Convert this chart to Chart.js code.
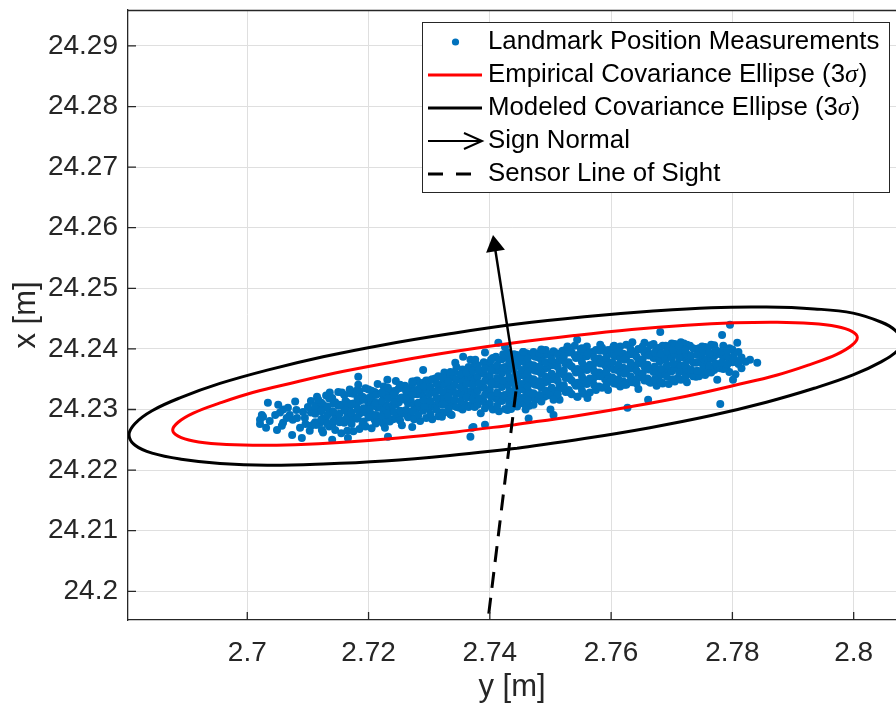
<!DOCTYPE html>
<html>
<head>
<meta charset="utf-8">
<script src="https://cdn.jsdelivr.net/npm/chart.js@4.4.0/dist/chart.umd.min.js"></script>
<style>
  html, body { margin: 0; padding: 0; background: #fff; overflow: hidden; }
  #chart { display: block; }
</style>
</head>
<body>
<canvas id="chart" width="896" height="703"></canvas>
<script>
// ============================================
// Landmark position scatter vs covariance ellipses
// ============================================

// axis ranges + ticks (horizontal = y [m], vertical = x [m])
const xRange = [2.68033, 2.80698];
const yRange = [24.19526, 24.29593];
const xTicks = [2.7, 2.72, 2.74, 2.76, 2.78, 2.8];
const xTickLabels = ['2.7', '2.72', '2.74', '2.76', '2.78', '2.8'];
const yTicks = [24.2, 24.21, 24.22, 24.23, 24.24, 24.25, 24.26, 24.27, 24.28, 24.29];
const yTickLabels = ['24.2', '24.21', '24.22', '24.23', '24.24', '24.25', '24.26', '24.27', '24.28', '24.29'];

const legendLabels = [
    'Landmark Position Measurements',
    'Empirical Covariance Ellipse (3σ)',
    'Modeled Covariance Ellipse (3σ)',
    'Sign Normal',
    'Sensor Line of Sight'
];

// measurement cloud, dense part: [y, x1, x2, ...] per column
const landmarkCols = [
    [2.7105, 24.2273, 24.2295, 24.2314],
    [2.7110, 24.2276, 24.2299],
    [2.7115, 24.2275, 24.2298, 24.2321],
    [2.7120, 24.2278, 24.2301],
    [2.7125, 24.2262, 24.2285, 24.2308],
    [2.7130, 24.2280, 24.2303, 24.2323],
    [2.7135, 24.2272, 24.2295, 24.2318],
    [2.7140, 24.2274, 24.2297, 24.2319],
    [2.7145, 24.2266, 24.2289, 24.2312],
    [2.7150, 24.2283, 24.2306, 24.2329],
    [2.7155, 24.2261, 24.2282, 24.2307],
    [2.7160, 24.2278, 24.2301, 24.2324],
    [2.7165, 24.2265, 24.2288, 24.2311],
    [2.7170, 24.2281, 24.2306, 24.2327],
    [2.7175, 24.2264, 24.2287, 24.2310, 24.2326],
    [2.7180, 24.2285, 24.2308, 24.2331],
    [2.7185, 24.2268, 24.2293, 24.2314, 24.2330],
    [2.7190, 24.2275, 24.2298, 24.2321],
    [2.7195, 24.2272, 24.2295, 24.2318, 24.2335],
    [2.7200, 24.2287, 24.2310, 24.2333],
    [2.7205, 24.2269, 24.2292, 24.2315, 24.2331],
    [2.7210, 24.2283, 24.2306, 24.2329],
    [2.7215, 24.2280, 24.2303, 24.2326, 24.2342],
    [2.7220, 24.2280, 24.2303],
    [2.7225, 24.2276, 24.2299, 24.2322, 24.2338],
    [2.7230, 24.2284, 24.2307, 24.2330],
    [2.7235, 24.2280, 24.2303, 24.2326],
    [2.7240, 24.2284, 24.2307, 24.2330],
    [2.7245, 24.2285, 24.2308, 24.2331, 24.2347],
    [2.7250, 24.2289, 24.2312, 24.2335],
    [2.7255, 24.2274, 24.2297, 24.2320, 24.2336],
    [2.7260, 24.2293, 24.2316, 24.2339],
    [2.7265, 24.2287, 24.2310, 24.2333],
    [2.7270, 24.2290, 24.2313, 24.2336],
    [2.7275, 24.2284, 24.2307, 24.2330, 24.2346],
    [2.7280, 24.2302, 24.2325, 24.2348],
    [2.7285, 24.2281, 24.2304, 24.2327, 24.2343],
    [2.7290, 24.2298, 24.2321, 24.2344],
    [2.7295, 24.2286, 24.2309, 24.2332, 24.2348],
    [2.7300, 24.2302, 24.2325, 24.2348],
    [2.7305, 24.2284, 24.2307, 24.2330, 24.2350],
    [2.7310, 24.2305, 24.2328, 24.2351],
    [2.7315, 24.2289, 24.2312, 24.2335, 24.2355],
    [2.7320, 24.2295, 24.2318, 24.2341],
    [2.7325, 24.2295, 24.2318, 24.2341, 24.2361],
    [2.7330, 24.2309, 24.2332, 24.2355],
    [2.7335, 24.2292, 24.2315, 24.2338, 24.2358],
    [2.7340, 24.2306, 24.2329, 24.2352],
    [2.7345, 24.2304, 24.2327, 24.2350, 24.2370],
    [2.7350, 24.2303, 24.2326, 24.2349],
    [2.7355, 24.2300, 24.2323, 24.2346, 24.2366],
    [2.7360, 24.2308, 24.2331, 24.2354],
    [2.7365, 24.2304, 24.2327, 24.2350, 24.2370],
    [2.7370, 24.2308, 24.2331, 24.2354],
    [2.7375, 24.2304, 24.2327, 24.2350, 24.2373],
    [2.7380, 24.2308, 24.2331, 24.2354, 24.2373],
    [2.7385, 24.2294, 24.2317, 24.2340, 24.2363],
    [2.7390, 24.2313, 24.2336, 24.2359, 24.2378],
    [2.7395, 24.2307, 24.2330, 24.2353, 24.2376],
    [2.7400, 24.2310, 24.2333, 24.2356, 24.2375],
    [2.7405, 24.2300, 24.2323, 24.2346, 24.2369, 24.2385],
    [2.7410, 24.2318, 24.2341, 24.2364, 24.2387],
    [2.7415, 24.2297, 24.2320, 24.2343, 24.2366, 24.2382],
    [2.7420, 24.2314, 24.2337, 24.2360, 24.2383],
    [2.7425, 24.2301, 24.2324, 24.2347, 24.2370, 24.2386],
    [2.7430, 24.2317, 24.2340, 24.2363, 24.2386],
    [2.7435, 24.2301, 24.2324, 24.2347, 24.2370, 24.2386],
    [2.7440, 24.2322, 24.2345, 24.2368, 24.2391],
    [2.7445, 24.2305, 24.2328, 24.2351, 24.2374, 24.2390],
    [2.7450, 24.2311, 24.2334, 24.2357, 24.2380],
    [2.7455, 24.2310, 24.2333, 24.2356, 24.2379, 24.2395],
    [2.7460, 24.2324, 24.2347, 24.2370, 24.2393],
    [2.7465, 24.2306, 24.2329, 24.2352, 24.2375, 24.2391],
    [2.7470, 24.2320, 24.2343, 24.2366, 24.2389],
    [2.7475, 24.2318, 24.2341, 24.2364, 24.2387],
    [2.7480, 24.2317, 24.2340, 24.2363, 24.2386],
    [2.7485, 24.2313, 24.2336, 24.2359, 24.2382, 24.2398],
    [2.7490, 24.2321, 24.2344, 24.2367, 24.2390],
    [2.7495, 24.2323, 24.2346, 24.2369, 24.2392],
    [2.7500, 24.2327, 24.2350, 24.2373, 24.2389],
    [2.7505, 24.2327, 24.2350, 24.2373, 24.2396],
    [2.7510, 24.2331, 24.2354, 24.2377, 24.2393],
    [2.7515, 24.2316, 24.2339, 24.2362, 24.2385],
    [2.7520, 24.2335, 24.2358, 24.2381, 24.2397],
    [2.7525, 24.2329, 24.2352, 24.2375, 24.2398],
    [2.7530, 24.2332, 24.2355, 24.2378, 24.2394],
    [2.7535, 24.2325, 24.2348, 24.2371, 24.2394],
    [2.7540, 24.2343, 24.2366, 24.2389, 24.2405],
    [2.7545, 24.2321, 24.2344, 24.2367, 24.2390],
    [2.7550, 24.2338, 24.2361, 24.2384, 24.2400],
    [2.7555, 24.2326, 24.2349, 24.2372, 24.2395],
    [2.7560, 24.2342, 24.2365, 24.2388, 24.2404],
    [2.7565, 24.2328, 24.2351, 24.2374, 24.2394],
    [2.7570, 24.2349, 24.2372, 24.2395],
    [2.7575, 24.2332, 24.2355, 24.2378, 24.2398],
    [2.7580, 24.2338, 24.2361, 24.2384],
    [2.7585, 24.2336, 24.2359, 24.2382, 24.2402],
    [2.7590, 24.2350, 24.2373, 24.2396],
    [2.7595, 24.2332, 24.2355, 24.2378, 24.2398],
    [2.7600, 24.2346, 24.2369, 24.2392],
    [2.7605, 24.2343, 24.2366, 24.2389, 24.2405],
    [2.7610, 24.2342, 24.2365, 24.2388],
    [2.7615, 24.2338, 24.2361, 24.2384, 24.2404],
    [2.7620, 24.2346, 24.2369, 24.2392],
    [2.7625, 24.2341, 24.2364, 24.2387, 24.2407],
    [2.7630, 24.2345, 24.2368, 24.2391],
    [2.7635, 24.2345, 24.2368, 24.2391, 24.2411],
    [2.7640, 24.2349, 24.2372, 24.2395],
    [2.7645, 24.2334, 24.2357, 24.2380, 24.2400],
    [2.7650, 24.2353, 24.2376, 24.2399],
    [2.7655, 24.2348, 24.2371, 24.2394, 24.2410],
    [2.7660, 24.2351, 24.2374, 24.2397],
    [2.7665, 24.2344, 24.2367, 24.2390, 24.2406],
    [2.7670, 24.2362, 24.2385, 24.2408],
    [2.7675, 24.2339, 24.2362, 24.2385, 24.2401],
    [2.7680, 24.2356, 24.2379, 24.2402],
    [2.7685, 24.2343, 24.2366, 24.2389, 24.2405],
    [2.7690, 24.2359, 24.2382, 24.2405],
    [2.7695, 24.2342, 24.2365, 24.2388, 24.2404],
    [2.7700, 24.2363, 24.2386, 24.2409],
    [2.7705, 24.2346, 24.2369, 24.2392, 24.2408],
    [2.7710, 24.2352, 24.2375, 24.2398],
    [2.7715, 24.2349, 24.2372, 24.2395, 24.2411],
    [2.7720, 24.2363, 24.2386, 24.2409],
    [2.7725, 24.2345, 24.2368, 24.2391, 24.2407],
    [2.7730, 24.2359, 24.2382, 24.2405],
    [2.7735, 24.2355, 24.2378, 24.2401],
    [2.7740, 24.2354, 24.2377, 24.2400],
    [2.7745, 24.2355, 24.2378, 24.2401],
    [2.7750, 24.2363, 24.2386, 24.2404],
    [2.7755, 24.2357, 24.2380, 24.2403],
    [2.7760, 24.2361, 24.2384, 24.2402],
    [2.7765, 24.2361, 24.2384, 24.2407],
    [2.7770, 24.2365, 24.2388, 24.2406],
    [2.7775, 24.2349, 24.2372, 24.2395],
    [2.7780, 24.2368, 24.2391],
    [2.7785, 24.2367, 24.2386, 24.2405],
    [2.7790, 24.2368, 24.2389],
    [2.7795, 24.2362, 24.2383, 24.2401],
    [2.7800, 24.2378, 24.2399],
    [2.7805, 24.2358, 24.2379],
    [2.7810, 24.2375, 24.2395],
    [2.7815, 24.2368, 24.2386]
];

// extra measurements packed into the middle of the band
const landmarkFill = [
    [2.7112, 24.2279, 24.2293, 24.2306],
    [2.7122, 24.2284, 24.2297, 24.2311],
    [2.7132, 24.2276, 24.2290, 24.2305],
    [2.7142, 24.2281, 24.2296, 24.2310],
    [2.7152, 24.2279, 24.2293, 24.2308],
    [2.7162, 24.2283, 24.2298, 24.2314],
    [2.7172, 24.2276, 24.2295, 24.2309],
    [2.7182, 24.2285, 24.2300, 24.2318],
    [2.7192, 24.2280, 24.2302, 24.2316],
    [2.7202, 24.2289, 24.2300, 24.2320],
    [2.7212, 24.2277, 24.2291, 24.2311, 24.2324],
    [2.7222, 24.2290, 24.2314, 24.2328],
    [2.7232, 24.2293, 24.2318, 24.2336],
    [2.7242, 24.2296, 24.2315, 24.2325],
    [2.7252, 24.2282, 24.2298, 24.2319, 24.2341],
    [2.7262, 24.2299, 24.2321, 24.2330],
    [2.7272, 24.2297, 24.2324, 24.2342],
    [2.7282, 24.2291, 24.2311, 24.2334],
    [2.7292, 24.2306, 24.2316, 24.2338],
    [2.7302, 24.2293, 24.2314, 24.2337],
    [2.7312, 24.2300, 24.2319, 24.2343],
    [2.7322, 24.2308, 24.2329, 24.2352],
    [2.7332, 24.2301, 24.2322, 24.2346],
    [2.7342, 24.2316, 24.2340, 24.2362],
    [2.7352, 24.2314, 24.2337, 24.2358],
    [2.7362, 24.2320, 24.2342, 24.2361],
    [2.7372, 24.2317, 24.2340, 24.2364],
    [2.7382, 24.2319, 24.2343, 24.2365],
    [2.7392, 24.2302, 24.2324, 24.2347, 24.2368],
    [2.7402, 24.2321, 24.2343, 24.2365, 24.2382],
    [2.7412, 24.2306, 24.2328, 24.2352, 24.2373],
    [2.7422, 24.2323, 24.2348, 24.2369, 24.2391],
    [2.7432, 24.2309, 24.2330, 24.2353, 24.2378],
    [2.7442, 24.2313, 24.2335, 24.2358, 24.2381],
    [2.7452, 24.2319, 24.2342, 24.2365, 24.2388],
    [2.7462, 24.2315, 24.2338, 24.2360, 24.2384],
    [2.7472, 24.2327, 24.2350, 24.2373, 24.2395],
    [2.7482, 24.2324, 24.2347, 24.2371, 24.2393],
    [2.7492, 24.2331, 24.2354, 24.2378, 24.2398],
    [2.7502, 24.2336, 24.2359, 24.2382],
    [2.7512, 24.2325, 24.2347, 24.2370, 24.2391],
    [2.7522, 24.2340, 24.2364, 24.2387],
    [2.7532, 24.2328, 24.2351, 24.2373, 24.2396],
    [2.7542, 24.2339, 24.2361, 24.2385],
    [2.7552, 24.2331, 24.2354, 24.2378, 24.2401],
    [2.7562, 24.2347, 24.2369, 24.2392],
    [2.7572, 24.2340, 24.2363, 24.2386],
    [2.7582, 24.2355, 24.2376, 24.2397],
    [2.7592, 24.2340, 24.2362, 24.2385],
    [2.7602, 24.2353, 24.2378, 24.2400],
    [2.7612, 24.2350, 24.2374, 24.2396],
    [2.7622, 24.2341, 24.2359, 24.2382],
    [2.7632, 24.2355, 24.2377, 24.2400],
    [2.7642, 24.2343, 24.2364, 24.2387],
    [2.7652, 24.2360, 24.2383, 24.2404],
    [2.7662, 24.2346, 24.2366, 24.2389],
    [2.7672, 24.2350, 24.2371, 24.2394],
    [2.7682, 24.2345, 24.2367, 24.2392],
    [2.7692, 24.2354, 24.2373, 24.2396],
    [2.7702, 24.2350, 24.2376, 24.2398],
    [2.7712, 24.2362, 24.2385, 24.2405],
    [2.7722, 24.2353, 24.2374, 24.2398],
    [2.7732, 24.2366, 24.2389],
    [2.7742, 24.2364, 24.2390],
    [2.7752, 24.2370, 24.2395],
    [2.7762, 24.2372, 24.2393],
    [2.7772, 24.2376, 24.2399],
    [2.7782, 24.2377, 24.2396],
    [2.7792, 24.2375, 24.2397],
    [2.7802, 24.2388],
    [2.7812, 24.2381]
];

// sparse left end and scattered outliers: [y, x]
const landmarkStray = [
    [2.7024, 24.2291], [2.7021, 24.2283], [2.7026, 24.2288], [2.7021, 24.2276],
    [2.7034, 24.2311], [2.7051, 24.2308], [2.7054, 24.2295], [2.7059, 24.2300],
    [2.7059, 24.2278], [2.7065, 24.2286], [2.7070, 24.2291], [2.7075, 24.2283],
    [2.7079, 24.2313], [2.7074, 24.2258], [2.7090, 24.2253], [2.7092, 24.2296],
    [2.7049, 24.2266], [2.7057, 24.2273], [2.7037, 24.2281], [2.7031, 24.2270],
    [2.7082, 24.2286], [2.7096, 24.2276], [2.7087, 24.2270], [2.7100, 24.2304],
    [2.7081, 24.2299], [2.7103, 24.2265], [2.7095, 24.2286], [2.7067, 24.2303],
    [2.7046, 24.2291],
    [2.7183, 24.2354], [2.7183, 24.2341], [2.7231, 24.2349], [2.7272, 24.2346],
    [2.7290, 24.2365], [2.7335, 24.2362], [2.7343, 24.2377], [2.7368, 24.2382],
    [2.7414, 24.2410], [2.7429, 24.2394], [2.7455, 24.2395], [2.7232, 24.2255],
    [2.7272, 24.2271], [2.7368, 24.2255], [2.7373, 24.2271], [2.7392, 24.2275],
    [2.7140, 24.2250], [2.7166, 24.2253], [2.7123, 24.2266], [2.7112, 24.2275],
    [2.7169, 24.2333], [2.7156, 24.2328], [2.7136, 24.2328], [2.7117, 24.2316],
    [2.7356, 24.2387], [2.7376, 24.2382], [2.7392, 24.2394], [2.7425, 24.2403],
    [2.7227, 24.2270], [2.7371, 24.2270], [2.7321, 24.2288], [2.7337, 24.2291],
    [2.7544, 24.2415], [2.7528, 24.2404], [2.7582, 24.2407], [2.7604, 24.2404],
    [2.7485, 24.2399], [2.7500, 24.2300], [2.7505, 24.2316], [2.7544, 24.2321],
    [2.7561, 24.2319], [2.7472, 24.2308], [2.7459, 24.2300], [2.7429, 24.2299],
    [2.7681, 24.2428], [2.7783, 24.2423], [2.7796, 24.2440], [2.7627, 24.2303],
    [2.7661, 24.2316], [2.7505, 24.2291], [2.7464, 24.2285], [2.7808, 24.2410],
    [2.7801, 24.2349], [2.7780, 24.2309], [2.7829, 24.2382], [2.7841, 24.2377],
    [2.7822, 24.2379]
];

// empirical (red) ellipse, read round from the bottom middle
const empiricalY = [2.7441, 2.7344, 2.7249, 2.7159, 2.7079, 2.7009, 2.6953, 2.6911, 2.6886, 2.6877,
    2.6886, 2.6911, 2.6953, 2.7009, 2.7079, 2.7159, 2.7249, 2.7344, 2.7441, 2.7539, 2.7634, 2.7724,
    2.7804, 2.7874, 2.7930, 2.7972, 2.7997, 2.8006, 2.7997, 2.7972, 2.7930, 2.7874, 2.7804, 2.7724,
    2.7634, 2.7539, 2.7441];
const empiricalX = [24.2275, 24.2263, 24.2253, 24.2246, 24.2242, 24.2241, 24.2243, 24.2248, 24.2256, 24.2266,
    24.2279, 24.2294, 24.2310, 24.2328, 24.2345, 24.2363, 24.2380, 24.2396, 24.2410, 24.2422, 24.2432, 24.2439,
    24.2443, 24.2444, 24.2442, 24.2437, 24.2429, 24.2419, 24.2406, 24.2391, 24.2375, 24.2357, 24.2340, 24.2322,
    24.2305, 24.2289, 24.2275];

// modeled (black) ellipse, read round from the bottom middle
const modeledY = [2.7445, 2.7334, 2.7226, 2.7125, 2.7033, 2.6955, 2.6891, 2.6843, 2.6815, 2.6805,
    2.6815, 2.6843, 2.6891, 2.6955, 2.7033, 2.7125, 2.7226, 2.7334, 2.7445, 2.7556, 2.7664, 2.7765,
    2.7856, 2.7935, 2.7999, 2.8046, 2.8068, 2.8080, 2.8072, 2.8046, 2.7999, 2.7935, 2.7856, 2.7765,
    2.7664, 2.7556, 2.7445];
const modeledX = [24.2236, 24.2224, 24.2215, 24.2210, 24.2208, 24.2211, 24.2218, 24.2228, 24.2241, 24.2258,
    24.2277, 24.2298, 24.2320, 24.2343, 24.2365, 24.2387, 24.2407, 24.2425, 24.2441, 24.2453, 24.2462, 24.2468,
    24.2469, 24.2466, 24.2459, 24.2444, 24.2431, 24.2413, 24.2397, 24.2379, 24.2357, 24.2335, 24.2312, 24.2290,
    24.2270, 24.2252, 24.2236];

// sign normal arrow (base -> head) and sensor line of sight
const normalY = [2.7445, 2.7408];
const normalX = [24.2333, 24.2570];
const sightY = [2.7443, 2.7393];
const sightX = [24.2330, 24.1920];

const FONT = "'Liberation Sans', Arial, Helvetica, sans-serif";
const AXIS_COLOR = '#262626';

function toPoints(ys, xs) {
    return ys.map((v, i) => ({ x: v, y: xs[i] }));
}

let measPoints = [];
landmarkCols.concat(landmarkFill).forEach(col => {
    for (let i = 1; i < col.length; i++) measPoints.push({ x: col[0], y: col[i] });
});
landmarkStray.forEach(p => measPoints.push({ x: p[0], y: p[1] }));

/**
 * Box top edge and inward tick marks (matlab style)
 */
const axesFrame = {
    id: 'axesFrame',
    afterDraw(chart) {
        const { ctx, chartArea: a, scales } = chart;
        ctx.save();
        ctx.strokeStyle = AXIS_COLOR;
        ctx.lineWidth = 1.3;
        ctx.beginPath();
        ctx.moveTo(a.left, a.top + 0.5);
        ctx.lineTo(a.right, a.top + 0.5);
        xTicks.forEach(v => {
            const px = scales.x.getPixelForValue(v);
            ctx.moveTo(px, a.bottom);
            ctx.lineTo(px, a.bottom - 8);
        });
        yTicks.forEach(v => {
            const py = scales.y.getPixelForValue(v);
            ctx.moveTo(a.left, py);
            ctx.lineTo(a.left + 8, py);
        });
        ctx.stroke();
        ctx.restore();
    }
};

/**
 * Legend box in the upper right corner
 */
const boxLegend = {
    id: 'boxLegend',
    afterDraw(chart) {
        const ctx = chart.ctx;
        const rows = [42, 75, 108, 141, 174];
        ctx.save();
        ctx.fillStyle = '#fff';
        ctx.fillRect(422, 22, 468, 171);
        ctx.strokeStyle = AXIS_COLOR;
        ctx.lineWidth = 1;
        ctx.strokeRect(422.5, 22.5, 467, 170);

        // symbols
        ctx.fillStyle = '#0072BD';
        ctx.beginPath();
        ctx.arc(455.5, rows[0], 3.6, 0, Math.PI * 2);
        ctx.fill();

        ctx.lineWidth = 3;
        ctx.strokeStyle = '#ff0000';
        ctx.beginPath();
        ctx.moveTo(428, rows[1]);
        ctx.lineTo(482, rows[1]);
        ctx.stroke();

        ctx.strokeStyle = '#000';
        ctx.beginPath();
        ctx.moveTo(428, rows[2]);
        ctx.lineTo(482, rows[2]);
        ctx.stroke();

        ctx.lineWidth = 2;
        ctx.beginPath();
        ctx.moveTo(428, rows[3]);
        ctx.lineTo(481, rows[3]);
        ctx.moveTo(464, rows[3] - 8);
        ctx.lineTo(482, rows[3]);
        ctx.lineTo(464, rows[3] + 8);
        ctx.stroke();

        ctx.lineWidth = 3;
        ctx.setLineDash([15, 13]);
        ctx.beginPath();
        ctx.moveTo(428, rows[4]);
        ctx.lineTo(482, rows[4]);
        ctx.stroke();
        ctx.setLineDash([]);

        // labels, sigma drawn in italic
        ctx.fillStyle = '#000';
        ctx.textBaseline = 'middle';
        legendLabels.forEach((txt, i) => {
            const parts = txt.split('σ');
            let x = 488;
            ctx.font = '25.8px ' + FONT;
            ctx.fillText(parts[0], x, rows[i]);
            if (parts.length > 1) {
                x += ctx.measureText(parts[0]).width;
                ctx.font = "italic 25.8px 'Liberation Serif', 'DejaVu Serif', serif";
                ctx.fillText('σ', x, rows[i]);
                x += ctx.measureText('σ').width + 1;
                ctx.font = '25.8px ' + FONT;
                ctx.fillText(parts[1], x, rows[i]);
            }
        });
        ctx.restore();
    }
};

const ctx = document.getElementById('chart').getContext('2d');
const chart = new Chart(ctx, {
    type: 'scatter',
    data: {
        datasets: [
            {
                label: legendLabels[4],
                data: toPoints(sightY, sightX),
                showLine: true,
                borderColor: '#000',
                borderWidth: 3,
                borderDash: [16, 10],
                pointRadius: 0,
                order: 0
            },
            {
                label: legendLabels[3],
                data: toPoints(normalY, normalX),
                showLine: true,
                borderColor: '#000',
                borderWidth: 2.5,
                pointRadius: [0, 11],
                pointStyle: 'triangle',
                pointRotation: [0, -8.8],
                pointBackgroundColor: '#000',
                pointBorderWidth: 0,
                order: 1
            },
            {
                label: legendLabels[2],
                data: toPoints(modeledY, modeledX),
                showLine: true,
                borderColor: '#000',
                borderWidth: 3,
                tension: 0.4,
                pointRadius: 0,
                order: 2
            },
            {
                label: legendLabels[1],
                data: toPoints(empiricalY, empiricalX),
                showLine: true,
                borderColor: '#ff0000',
                borderWidth: 3,
                tension: 0.4,
                pointRadius: 0,
                order: 3
            },
            {
                label: legendLabels[0],
                data: measPoints,
                showLine: false,
                pointRadius: 4,
                pointBackgroundColor: '#0072BD',
                pointBorderWidth: 0,
                order: 4
            }
        ]
    },
    options: {
        responsive: false,
        animation: false,
        devicePixelRatio: 1,
        events: [],
        layout: { autoPadding: false, padding: { top: 10, right: 0, left: 0, bottom: 0 } },
        plugins: {
            legend: { display: false },
            tooltip: { enabled: false }
        },
        scales: {
            x: {
                type: 'linear',
                min: xRange[0],
                max: xRange[1],
                afterBuildTicks: scale => { scale.ticks = xTicks.map(v => ({ value: v })); },
                afterFit: scale => {
                    scale.height = 83;
                    scale.paddingLeft = 0;
                    scale.paddingRight = 0;
                },
                ticks: {
                    autoSkip: false,
                    maxRotation: 0,
                    padding: 16,
                    color: AXIS_COLOR,
                    font: { family: FONT, size: 28 },
                    callback: (v, i) => xTickLabels[i]
                },
                grid: { color: '#dfdfdf', lineWidth: 1, drawTicks: false },
                border: { display: true, color: AXIS_COLOR, width: 1.3 },
                title: {
                    display: true,
                    text: 'y [m]',
                    color: AXIS_COLOR,
                    font: { family: FONT, size: 31, lineHeight: 1 },
                    padding: { top: 0, bottom: 0 }
                }
            },
            y: {
                type: 'linear',
                min: yRange[0],
                max: yRange[1],
                afterBuildTicks: scale => { scale.ticks = yTicks.map(v => ({ value: v })); },
                afterFit: scale => {
                    scale.width = 128;
                    scale.paddingTop = 0;
                    scale.paddingBottom = 0;
                },
                ticks: {
                    autoSkip: false,
                    padding: 10,
                    color: AXIS_COLOR,
                    font: { family: FONT, size: 28 },
                    callback: (v, i) => yTickLabels[i]
                },
                grid: { color: '#dfdfdf', lineWidth: 1, drawTicks: false },
                border: { display: true, color: AXIS_COLOR, width: 1.3 },
                title: {
                    display: true,
                    text: 'x [m]',
                    color: AXIS_COLOR,
                    font: { family: FONT, size: 31, lineHeight: 1 },
                    padding: { top: 11, bottom: 0 }
                }
            }
        }
    },
    plugins: [axesFrame, boxLegend]
});
</script>
</body>
</html>
